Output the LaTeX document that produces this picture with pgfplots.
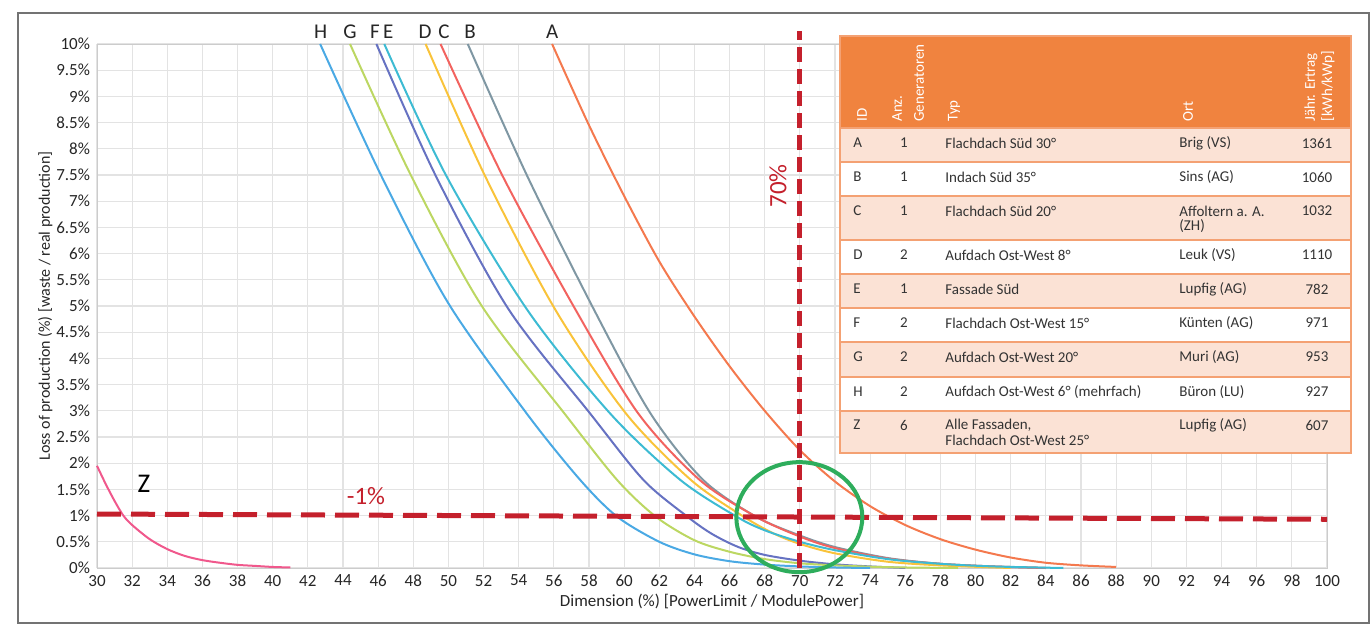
\documentclass[border=0pt]{standalone}
\usepackage{fontspec}
\setmainfont{Carlito}
\usepackage{pgfplots}
\pgfplotsset{compat=1.18}
\definecolor{cA}{HTML}{F4794E}
\definecolor{cB}{HTML}{7F97A3}
\definecolor{cC}{HTML}{F2635F}
\definecolor{cD}{HTML}{F9C33A}
\definecolor{cE}{HTML}{3DBBD3}
\definecolor{cF}{HTML}{6672C2}
\definecolor{cG}{HTML}{BCD762}
\definecolor{cH}{HTML}{4AA9E4}
\definecolor{cZ}{HTML}{F0588C}
\definecolor{dashred}{HTML}{C4202C}
\definecolor{circgreen}{HTML}{2EAD5C}
\definecolor{thead}{HTML}{F0833F}
\definecolor{trow}{HTML}{FBE2D5}
\definecolor{tline}{HTML}{F4A173}
\definecolor{ttext}{HTML}{333333}
\begin{document}
\begin{tikzpicture}
% page = 1372 x 626 px, 1 px = 0.5pt
\path[use as bounding box] (0,0) rectangle (686pt,-313pt);

\begin{axis}[
    at={(48.5pt,-284pt)}, anchor=south west,
    scale only axis, width=615pt, height=262pt,
    xmin=30, xmax=100, ymin=0, ymax=10,
    xtick={30,32,...,100},
    ytick={0,0.5,...,10},
    grid=major,
    major grid style={black!11, line width=0.6pt},
    axis line style={black!20},
    tick style={draw=none},
    ticklabel style={font=\fontsize{8.5}{10}\selectfont, text=black!85},
    /pgf/number format/assume math mode=true,
    yticklabel={\pgfmathprintnumber{\tick}\%},
    xlabel={Dimension (\%) [PowerLimit / ModulePower]},
    ylabel={Loss of production (\%) [waste / real production]},
    xlabel style={at={(axis description cs:0.5,-0.064)}, anchor=center, font=\fontsize{8.5}{10}\selectfont, text=black!85},
    ylabel style={at={(axis description cs:-0.042,0.5)}, anchor=center, font=\fontsize{8}{10}\selectfont, text=black!85},
    clip=false,
    every axis plot/.append style={line width=1pt, smooth, no marks},
  ]
  % A
  \addplot[cA] coordinates {(55.9,10) (58,8.45) (60,7.1) (62,5.85) (64,4.8) (66,3.85) (68,3.0) (70,2.25) (72,1.65) (74,1.18) (76,0.82) (78,0.55) (80,0.35) (82,0.2) (84,0.1) (86,0.05) (88,0.02)};
  % B
  \addplot[cB] coordinates {(51.1,10) (54.5,7.47) (58.3,4.92) (61.5,2.95) (64.5,1.68) (67.5,0.98) (70,0.62) (72,0.4) (75,0.19) (78,0.08) (81,0.03) (84,0)};
  % C
  \addplot[cC] coordinates {(49.55,10) (53.1,7.47) (57.25,4.92) (60.8,2.95) (64.3,1.68) (67.5,0.98) (70,0.6) (72,0.38) (75,0.18) (78,0.08) (81,0.03) (84,0)};
  % D
  \addplot[cD] coordinates {(48.7,10) (52.1,7.47) (56.1,4.92) (60.1,2.95) (63.8,1.68) (66.8,0.98) (68.5,0.66) (70,0.46) (72,0.28) (75,0.12) (78,0.05) (82,0)};
  % E
  \addplot[cE] coordinates {(46.35,10) (49.9,7.47) (54.5,4.92) (59.2,2.95) (63.2,1.68) (66.4,0.98) (68,0.72) (70,0.5) (72,0.34) (75,0.17) (78,0.08) (81,0.03) (85,0)};
  % F
  \addplot[cF] coordinates {(45.9,10) (49.3,7.47) (53.4,4.95) (58.06,2.95) (61.1,1.68) (63.6,0.98) (65,0.65) (66.5,0.4) (68,0.25) (70,0.14) (72,0.07) (74,0.03) (76,0)};
  % G
  \addplot[cG] coordinates {(44.4,10) (47.9,7.47) (51.9,5.0) (56.6,2.95) (59.6,1.68) (61.8,0.98) (64,0.53) (66,0.31) (68,0.17) (70,0.09) (72,0.05) (74,0.025) (76,0.01) (79,0)};
  % H
  \addplot[cH] coordinates {(42.7,10) (46.2,7.47) (50.0,5.05) (54.45,2.95) (57.5,1.68) (59.6,0.98) (62,0.5) (64,0.26) (66,0.13) (68,0.065) (70,0.03) (72,0.01) (74,0)};
  % Z
  \addplot[cZ] coordinates {(30,1.95) (30.5,1.6) (31,1.28) (31.5,1.0) (32,0.82) (33,0.55) (34,0.36) (35,0.23) (36,0.15) (37,0.1) (38,0.06) (39,0.04) (40,0.02) (41,0.01)};
  % reference lines
  \addplot[dashred, line width=2.5pt, sharp plot, dash pattern=on 12pt off 5pt] coordinates {(30,1.03) (100,0.93)};
  \addplot[dashred, line width=2.5pt, sharp plot, dash pattern=on 7.5pt off 3.5pt] coordinates {(70,0) (70,10.25)};
  \draw[circgreen, line width=2pt] (axis cs:69.97,0.97) ellipse [x radius=31.5pt, y radius=27.5pt];
\end{axis}

\begin{scope}[x=0.5pt,y=-0.5pt]
  % frame
  \draw[black!55, line width=1pt] (18,13) rectangle (1369,623);
  % curve letters
  \foreach \l/\px in {H/320.7,G/350,F/375,E/388.3,D/425,C/444,B/470,A/552.3}
    \node[font=\fontsize{10.5}{12}\selectfont, text=black!85] at (\px,32) {\l};
  \node[font=\fontsize{13.5}{15}\selectfont, text=black] at (144,484) {Z};
  \node[font=\fontsize{12.5}{14}\selectfont, text=dashred] at (366,496) {-1\%};
  \node[font=\fontsize{12.5}{14}\selectfont, text=dashred, rotate=90] at (778,186) {70\%};

  % table
  \fill[thead] (840,36) rectangle (1351,128);
  \foreach \t/\b/\c in {128/162/trow,162/196/white,196/240/trow,240/274/white,274/308/trow,308/342/white,342/377/trow,377/411/white,411/453/trow}
    \fill[\c] (840,\t) rectangle (1351,\b);
  \foreach \t in {128,162,196,240,274,308,342,377,411}
    \draw[tline, line width=1pt] (840,\t) -- (1351,\t);
  \draw[tline, line width=1pt] (840,36) rectangle (1351,453);

  \begin{scope}[every node/.style={font=\fontsize{7.5}{9}\selectfont, text=white, rotate=90, anchor=west, inner sep=0pt}]
    \node at (862,122) {ID};
    \node at (897,122) {Anz.};
    \node at (919,122) {Generatoren};
    \node at (954,122) {Typ};
    \node at (1188,122) {Ort};
    \node at (1311,122) {Jähr. Ertrag};
    \node at (1328,122) {[kWh/kWp]};
  \end{scope}

  \begin{scope}[every node/.style={font=\fontsize{7.5}{9}\selectfont, text=ttext, inner sep=0pt}]
    \foreach \y/\id/\n/\typ/\ort/\ert in {
      143/A/1/{Flachdach Süd 30°}/{Brig (VS)}/1361,
      177/B/1/{Indach Süd 35°}/{Sins (AG)}/1060,
      211/C/1/{Flachdach Süd 20°}/{Affoltern a. A.}/1032,
      255/D/2/{Aufdach Ost-West 8°}/{Leuk (VS)}/1110,
      289/E/1/{Fassade Süd}/{Lupfig (AG)}/782,
      323/F/2/{Flachdach Ost-West 15°}/{Künten (AG)}/971,
      357/G/2/{Aufdach Ost-West 20°}/{Muri (AG)}/953,
      392/H/2/{Aufdach Ost-West 6° (mehrfach)}/{Büron (LU)}/927,
      425/Z/6/{Alle Fassaden,}/{Lupfig (AG)}/607}{
      \node[anchor=west] at (853,\y) {\id};
      \node at (904,\y) {\n};
      \node[anchor=west] at (945,\y) {\typ};
      \node[anchor=west] at (1179,\y) {\ort};
      \node at (1317,\y) {\ert};
    }
    \node[anchor=west] at (1179,226) {(ZH)};
    \node[anchor=west] at (945,440) {Flachdach Ost-West 25°};
  \end{scope}
\end{scope}
\end{tikzpicture}
\end{document}
